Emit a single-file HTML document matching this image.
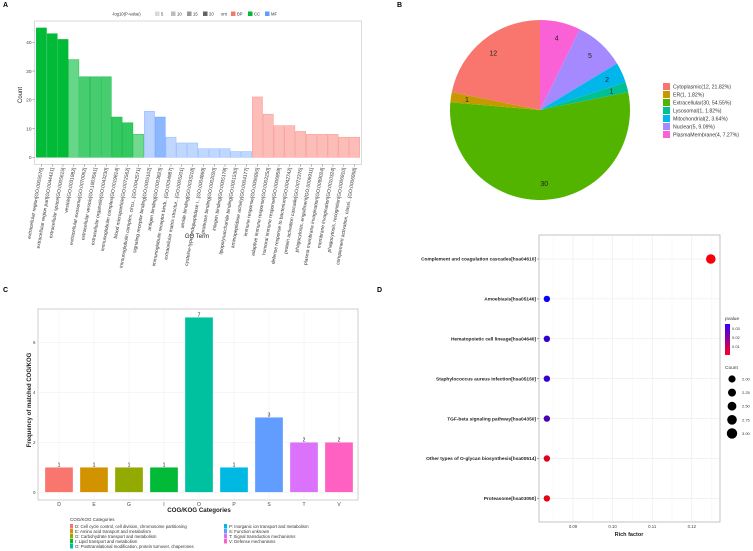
<!DOCTYPE html>
<html><head><meta charset="utf-8"><style>
body{margin:0;background:#fff;}
svg{display:block;font-family:"Liberation Sans",Arial,sans-serif;}
</style></head><body>
<svg id="fig" width="753" height="551" viewBox="0 0 753 551" xmlns="http://www.w3.org/2000/svg">
<g id="pA"></g>
<g id="pB"></g>
<g id="pC"></g>
<g id="pD"></g>
</svg>
<script>
const NS="http://www.w3.org/2000/svg";
function mk(p,tag,a,txt){const e=document.createElementNS(NS,tag);for(const k in a)e.setAttribute(k,a[k]);if(txt!==undefined)e.textContent=txt;p.appendChild(e);return e;}

// ---------- Panel A data ----------
const goTerms=["extracellular region[GO:0005576]","extracellular region part[GO:0044421]","extracellular space[GO:0005615]","vesicle[GO:0031982]","extracellular exosome[GO:0070062]","extracellular vesicle[GO:1903561]","extracellular organelle[GO:0043230]","immunoglobulin complex[GO:0019814]","blood microparticle[GO:0072562]","immunoglobulin complex, circu...[GO:0042571]",
"signaling receptor binding[GO:0005102]","antigen binding[GO:0003823]","immunoglobulin receptor bindi...[GO:0034987]","extracellular matrix structur...[GO:0005201]","amide binding[GO:0033218]","cysteine-type endopeptidase i...[GO:0004869]","protease binding[GO:0002020]","integrin binding[GO:0005178]","lipopolysaccharide binding[GO:0001530]","aminopeptidase activity[GO:0004177]",
"immune response[GO:0006955]","adaptive immune response[GO:0002250]","humoral immune response[GO:0006959]","defense response to bacterium[GO:0042742]","protein activation cascade[GO:0072376]","phagocytosis, engulfment[GO:0006911]","plasma membrane invagination[GO:0099024]","membrane invagination[GO:0010324]","phagocytosis, recognition[GO:0006910]","complement activation, classi...[GO:0006958]"];
const goCounts=[45,43,41,34,28,28,28,14,12,8,16,14,7,5,5,3,3,3,2,2,21,15,11,11,9,8,8,8,7,7];
const goOnt=["CC","CC","CC","CC","CC","CC","CC","CC","CC","CC","MF","MF","MF","MF","MF","MF","MF","MF","MF","MF","BP","BP","BP","BP","BP","BP","BP","BP","BP","BP"];
const goNegLogP=[20,20,20,10,13,13,13,15,15,9,6,13,5,5,5,5,5,5,5,5,7,7,7,7,7,7,7,7,7,7];
const goYTicks=[0,10,20,30,40];

// ---------- Panel B data ----------
const pieNames=["Cytoplasmic","ER","Extracellular","Lysosomal","Mitochondrial","Nuclear","PlasmaMembrane"];
const pieValues=[12,1,30,1,2,5,4];
const pieColors=["#F8766D","#C49A00","#53B400","#00C094","#00B6EB","#A58AFF","#FB61D7"];

// ---------- Panel C data ----------
const cogCats=["D","E","G","I","O","P","S","T","V"];
const cogValues=[1,1,1,1,7,1,3,2,2];
const cogColors=["#F8766D","#D39200","#93AA00","#00BA38","#00C19F","#00B9E3","#619CFF","#DB72FB","#FF61C3"];
const cogYTicks=[0,2,4,6];
const cogLegend=["D: Cell cycle control, cell division, chromosome partitioning","E: Amino acid transport and metabolism","G: Carbohydrate transport and metabolism","I: Lipid transport and metabolism","O: Posttranslational modification, protein turnover, chaperones","P: Inorganic ion transport and metabolism","S: Function unknown","T: Signal transduction mechanisms","V: Defense mechanisms"];

// ---------- Panel D data ----------
const keggTerms=["Complement and coagulation cascades[hsa04610]","Amoebiasis[hsa05146]","Hematopoietic cell lineage[hsa04640]","Staphylococcus aureus infection[hsa05150]","TGF-beta signaling pathway[hsa04350]","Other types of O-glycan biosynthesis[hsa00514]","Proteasome[hsa03050]"];
const keggRich=[0.1248,0.0834,0.0834,0.0834,0.0834,0.0834,0.0834];
const keggP=[0.004,0.036,0.031,0.030,0.027,0.007,0.006];
const keggCount=[3,2,2,2,2,2,2];
const keggXTicks=[0.09,0.10,0.11,0.12];
const countLegend=[2.00,2.25,2.50,2.75,3.00];

// ===== Panel A =====
(function(){
 const g=document.getElementById('pA');
 let e=mk(g,'text',{x:3,y:7,'font-size':7,'font-weight':'bold'},'A');
 
 const x0=36,x1=360,y0=157.3,ppu=2.875;
 const ys=v=>y0-v*ppu;
 e=mk(g,'rect',{x:34.5,y:21,width:327,height:143.5,fill:'#fff',stroke:'#ccc','stroke-width':0.7});
 
 const bw=(x1-x0)/goCounts.length;
 const base={CC:"#00BA38",MF:"#619CFF",BP:"#F8766D"};
 goCounts.forEach((v,i)=>{
  const a=Math.min(1,0.2+goNegLogP[i]/20*0.8);
  e=mk(g,'rect',{x:x0+i*bw+0.3,y:ys(v),width:bw-0.6,height:v*ppu,fill:base[goOnt[i]],'fill-opacity':a,stroke:base[goOnt[i]],'stroke-opacity':Math.min(1,a+0.2),'stroke-width':0.5});
  
  const cx=x0+(i+0.5)*bw;
  mk(g,'line',{x1:cx,y1:164.5,x2:cx,y2:166.5,stroke:'#333','stroke-width':0.4});
  e=mk(g,'text',{x:0,y:0,'font-size':4.9,fill:'#333','text-anchor':'end',transform:`translate(${cx+1.6},168) rotate(-80)`},goTerms[i]);
  
 });
 goYTicks.forEach(t=>{
  mk(g,'line',{x1:32.5,y1:ys(t),x2:34.5,y2:ys(t),stroke:'#333','stroke-width':0.4});
  e=mk(g,'text',{x:31.5,y:ys(t)+1.7,'font-size':4.8,fill:'#444','text-anchor':'end'},t);
  
 });
 e=mk(g,'text',{x:0,y:0,'font-size':6,fill:'#222','text-anchor':'middle',transform:'translate(22,95) rotate(-90)'},'Count');
 
 e=mk(g,'text',{x:197,y:238,'font-size':6,fill:'#222','text-anchor':'middle'},'GO Term');
 
 const lg=mk(g,'g',{});
 mk(lg,'text',{x:112,y:15.5,'font-size':4.2,fill:'#333'},'-log10(P-value)');
 const gr=[["#d9d9d9","5"],["#bdbdbd","10"],["#969696","15"],["#636363","20"]];
 gr.forEach((c,i)=>{const x=155+i*16;mk(lg,'rect',{x:x,y:11.5,width:4.5,height:4.5,fill:c[0]});mk(lg,'text',{x:x+6,y:15.5,'font-size':4.2,fill:'#333'},c[1]);});
 mk(lg,'text',{x:221,y:15.5,'font-size':4.2,fill:'#333'},'ont');
 [["#F8766D","BP"],["#00BA38","CC"],["#619CFF","MF"]].forEach((c,i)=>{const x=231+i*17;mk(lg,'rect',{x:x,y:11.5,width:4.5,height:4.5,fill:c[0]});mk(lg,'text',{x:x+6,y:15.5,'font-size':4.2,fill:'#333'},c[1]);});
})();

// ===== Panel B =====
(function(){
 const g=document.getElementById('pB');
 let e=mk(g,'text',{x:397,y:7,'font-size':7,'font-weight':'bold'},'B');
 
 const cx=540,cy=110,r=90;
 const total=pieValues.reduce((a,b)=>a+b,0);
 let ang=0;
 for(let k=pieValues.length-1;k>=0;k--){
  const v=pieValues[k];const a0=ang,a1=ang+v/total*2*Math.PI;ang=a1;
  const p=a=>[cx+r*Math.sin(a),cy-r*Math.cos(a)];
  const [sx,sy]=p(a0),[ex,ey]=p(a1);
  e=mk(g,'path',{d:`M${cx},${cy}L${sx},${sy}A${r},${r} 0 ${a1-a0>Math.PI?1:0} 1 ${ex},${ey}Z`,fill:pieColors[k]});
  
  const m=(a0+a1)/2,lr=r*0.82;
  e=mk(g,'text',{x:cx+lr*Math.sin(m),y:cy-lr*Math.cos(m)+2.5,'font-size':7,fill:'#222','text-anchor':'middle'},v);
  
 }
 const lg=mk(g,'g',{});
 pieNames.forEach((n,i)=>{const y=83+i*8;
  mk(lg,'rect',{x:663,y:y,width:7,height:7,fill:pieColors[i]});
  mk(lg,'text',{x:673,y:y+5.5,'font-size':5.2,fill:'#333'},`${n}(${pieValues[i]}, ${(pieValues[i]/total*100).toFixed(2)}%)`);
 });
})();

// ===== Panel C =====
(function(){
 const g=document.getElementById('pC');
 let e=mk(g,'text',{x:3,y:292,'font-size':7,'font-weight':'bold'},'C');
 
 const y0=492.3,ppu=25,xs=i=>59+i*35;
 const ys=v=>y0-v*ppu;
 e=mk(g,'rect',{x:38,y:309,width:320,height:191,fill:'#fff',stroke:'#bbb','stroke-width':0.7});
 
 cogYTicks.forEach(t=>{mk(g,'line',{x1:38,y1:ys(t),x2:358,y2:ys(t),stroke:'#eee','stroke-width':0.5});
  e=mk(g,'text',{x:35.5,y:ys(t)+1.5,'font-size':4.5,fill:'#444','text-anchor':'end'},t);
  });
 cogCats.forEach((c,i)=>{mk(g,'line',{x1:xs(i),y1:309,x2:xs(i),y2:500,stroke:'#eee','stroke-width':0.5});});
 cogValues.forEach((v,i)=>{
  e=mk(g,'rect',{x:xs(i)-14,y:ys(v),width:28,height:v*ppu,fill:cogColors[i],stroke:'#fff','stroke-opacity':0.5,'stroke-width':0.6});
  
  e=mk(g,'text',{x:xs(i),y:ys(v)-1,'font-size':5,fill:'#222','text-anchor':'middle'},v);
  
  e=mk(g,'text',{x:xs(i),y:506,'font-size':5,fill:'#444','text-anchor':'middle'},cogCats[i]);
  
 });
 e=mk(g,'text',{x:0,y:0,'font-size':6,'font-weight':'bold',fill:'#222','text-anchor':'middle',transform:'translate(31,400) rotate(-90)'},'Frequency of matched COG/KOG');
 
 e=mk(g,'text',{x:199,y:512,'font-size':6.2,'font-weight':'bold',fill:'#222','text-anchor':'middle'},'COG/KOG Categories');
 
 const lg=mk(g,'g',{});
 mk(lg,'text',{x:70,y:521,'font-size':4.5,fill:'#333'},'COG/KOG Categories');
 cogLegend.forEach((t,i)=>{const col=i<5?0:1,row=i<5?i:i-5;const x=col?224:70,y=524+row*5;
  mk(lg,'rect',{x:x,y:y,width:3,height:4.5,fill:cogColors[i]});
  mk(lg,'text',{x:x+5,y:y+3.8,'font-size':4.3,fill:'#333'},t);});
})();

// ===== Panel D =====
(function(){
 const g=document.getElementById('pD');
 let e=mk(g,'text',{x:377,y:292,'font-size':7,'font-weight':'bold'},'D');
 
 const xs=v=>573+(v-0.09)*3960, ys=i=>259+i*39.9;
 e=mk(g,'rect',{x:539,y:235,width:181,height:287,fill:'#fff',stroke:'#aaa','stroke-width':0.7});
 
 keggXTicks.forEach(t=>{mk(g,'line',{x1:xs(t),y1:235,x2:xs(t),y2:522,stroke:'#e6e6e6','stroke-width':0.5});
  mk(g,'line',{x1:xs(t)+19.8,y1:235,x2:xs(t)+19.8,y2:522,stroke:'#f2f2f2','stroke-width':0.4});
  e=mk(g,'text',{x:xs(t),y:528,'font-size':4.3,fill:'#444','text-anchor':'middle'},t.toFixed(2));
  });
 mk(g,'line',{x1:xs(0.09)-19.8,y1:235,x2:xs(0.09)-19.8,y2:522,stroke:'#f2f2f2','stroke-width':0.4});
 const col=p=>{const t=Math.max(0,Math.min(1,(p-0.003)/0.034));return `rgb(${Math.round(255*(1-t))},0,${Math.round(255*t)})`;};
 keggTerms.forEach((n,i)=>{
  mk(g,'line',{x1:539,y1:ys(i),x2:720,y2:ys(i),stroke:'#e6e6e6','stroke-width':0.5});
  mk(g,'line',{x1:537,y1:ys(i),x2:539,y2:ys(i),stroke:'#333','stroke-width':0.4});
  e=mk(g,'text',{x:536,y:ys(i)+1.7,'font-size':4.8,'font-weight':'bold',fill:'#222','text-anchor':'end'},n);
  
  e=mk(g,'circle',{cx:xs(keggRich[i]),cy:ys(i),r:3.2+(keggCount[i]-2)*1.6,fill:col(keggP[i])});
  
 });
 e=mk(g,'text',{x:629,y:536,'font-size':5.5,'font-weight':'bold',fill:'#222','text-anchor':'middle'},'Rich factor');
 
 const lg=mk(g,'g',{});
 mk(lg,'text',{x:725,y:320,'font-size':4.8,fill:'#333'},'pvalue');
 const df=mk(lg,'defs',{});const gd=mk(df,'linearGradient',{id:'pg',x1:0,y1:0,x2:0,y2:1});
 mk(gd,'stop',{offset:0,'stop-color':'#3300ff'});mk(gd,'stop',{offset:1,'stop-color':'#ff0022'});
 mk(lg,'rect',{x:725,y:324,width:5,height:31,fill:'url(#pg)'});
 [["0.03",330],["0.02",339],["0.01",348]].forEach(a=>mk(lg,'text',{x:732,y:a[1],'font-size':4,fill:'#333'},a[0]));
 mk(lg,'text',{x:725,y:369,'font-size':4.8,fill:'#333'},'Count');
 countLegend.forEach((c,i)=>{const y=379+i*13.6;mk(lg,'circle',{cx:732,cy:y,r:3.6+i*0.4,fill:'#000'});
  mk(lg,'text',{x:742,y:y+1.5,'font-size':4,fill:'#333'},c.toFixed(2));});
})();
</script>
</body></html>
